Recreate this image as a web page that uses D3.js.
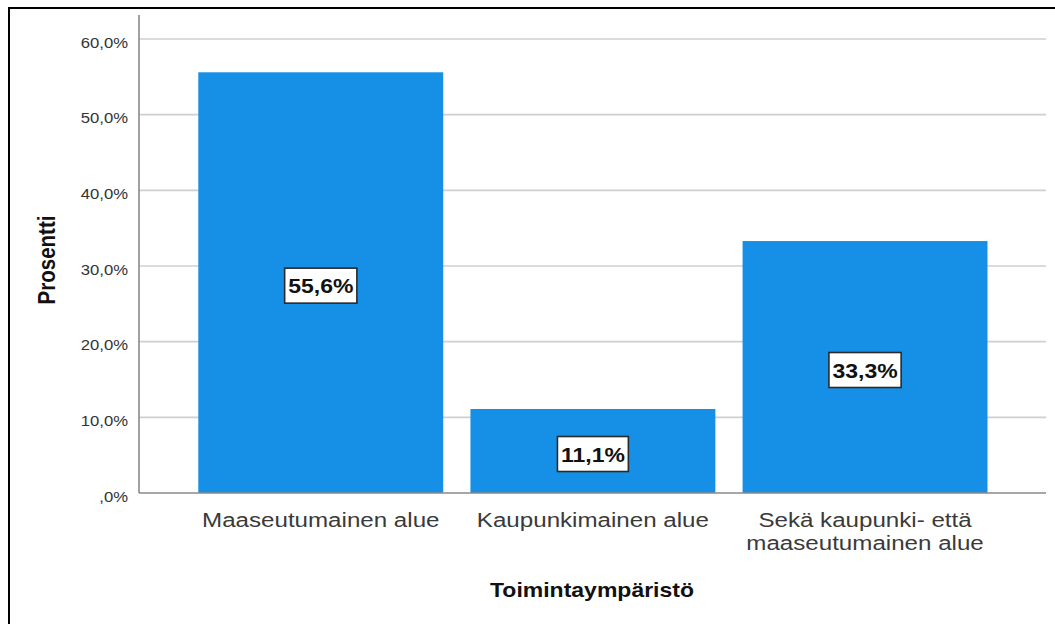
<!DOCTYPE html>
<html>
<head>
<meta charset="utf-8">
<script src="https://cdn.jsdelivr.net/npm/d3@7"></script>
<style>
  html, body { margin: 0; padding: 0; background: #fff; }
  svg { display: block; }
  text { font-family: "Liberation Sans", Arial, sans-serif; }
</style>
</head>
<body>
<svg id="chart" width="1055" height="624"></svg>
<script>
// ---- data ----
const categories = [
  ["Maaseutumainen alue"],
  ["Kaupunkimainen alue"],
  ["Sekä kaupunki- että", "maaseutumainen alue"]
];
const values = [55.6, 11.1, 33.3];
const valueLabels = ["55,6%", "11,1%", "33,3%"];
const yTicks = [0, 10, 20, 30, 40, 50, 60];
const yTickLabels = [",0%", "10,0%", "20,0%", "30,0%", "40,0%", "50,0%", "60,0%"];
const xTitle = "Toimintaympäristö";
const yTitle = "Prosentti";

// ---- layout ----
const SX = 1.15; // horizontal text stretch in reference
const svg = d3.select("#chart");

// outer frame (left + top visible)
svg.append("rect")
  .attr("x", 9).attr("y", 8).attr("width", 1200).attr("height", 800)
  .attr("fill", "none").attr("stroke", "#000").attr("stroke-width", 2);

const plotLeft = 139, plotRight = 1046, plotBottom = 493, plotTop = 15;

const y = d3.scaleLinear().domain([0, 60]).range([plotBottom, 39]);
const x = d3.scaleBand()
  .domain(d3.range(categories.length))
  .range([184.7, 1001.1])
  .paddingInner(0.1)
  .paddingOuter(0.05);

// gridlines
svg.append("g")
  .selectAll("line")
  .data(yTicks.filter(d => d > 0))
  .join("line")
  .attr("x1", plotLeft).attr("x2", plotRight)
  .attr("y1", d => y(d)).attr("y2", d => y(d))
  .attr("stroke", "#cfcfcf").attr("stroke-width", 1.6);

// bars
svg.append("g")
  .selectAll("rect")
  .data(values)
  .join("rect")
  .attr("x", (d, i) => x(i))
  .attr("width", x.bandwidth())
  .attr("y", d => y(d))
  .attr("height", d => y(0) - y(d))
  .attr("fill", "#1590e6");

// axes lines
svg.append("line")
  .attr("x1", plotLeft).attr("x2", plotLeft)
  .attr("y1", plotTop).attr("y2", plotBottom)
  .attr("stroke", "#8a8a8a").attr("stroke-width", 1.6);
svg.append("line")
  .attr("x1", plotLeft).attr("x2", plotRight)
  .attr("y1", plotBottom).attr("y2", plotBottom)
  .attr("stroke", "#8a8a8a").attr("stroke-width", 1.6);

// y tick labels
svg.append("g")
  .selectAll("g")
  .data(yTicks)
  .join("g")
  .attr("transform", d => `translate(128,${y(d) + 8.5}) scale(${SX},1)`)
  .append("text")
  .attr("text-anchor", "end")
  .attr("font-size", 14.5)
  .attr("fill", "#333")
  .text((d, i) => yTickLabels[i]);

// x tick labels
const xl = svg.append("g")
  .selectAll("g")
  .data(categories)
  .join("g")
  .attr("transform", (d, i) => `translate(${x(i) + x.bandwidth() / 2},527) scale(${SX},1)`);
xl.each(function(lines) {
  d3.select(this).selectAll("text")
    .data(lines)
    .join("text")
    .attr("text-anchor", "middle")
    .attr("y", (d, j) => j * 23)
    .attr("font-size", 21)
    .attr("fill", "#3a3a3a")
    .text(d => d);
});

// value label boxes
const lbl = svg.append("g")
  .selectAll("g")
  .data(values)
  .join("g")
  .attr("transform", (d, i) => `translate(${x(i) + x.bandwidth() / 2},${y(d / 2) + 3})`);
lbl.each(function(d, i) {
  const g = d3.select(this);
  const rect = g.append("rect");
  const tg = g.append("g").attr("transform", `scale(${SX},1)`);
  const t = tg.append("text")
    .attr("text-anchor", "middle")
    .attr("y", 7.5)
    .attr("font-size", 20)
    .attr("font-weight", "bold")
    .attr("fill", "#111")
    .text(valueLabels[i]);
  const w = t.node().getComputedTextLength() * SX + 7;
  const h = 35;
  rect.attr("x", -w / 2).attr("y", -h / 2).attr("width", w).attr("height", h)
    .attr("fill", "#fff").attr("stroke", "#2a2a2a").attr("stroke-width", 1.6);
});

// axis titles
svg.append("g")
  .attr("transform", `translate(592,597) scale(${SX},1)`)
  .append("text")
  .attr("text-anchor", "middle")
  .attr("font-size", 20)
  .attr("font-weight", "bold")
  .attr("fill", "#111")
  .text(xTitle);

svg.append("g")
  .attr("transform", `translate(55,260) scale(${SX},1) rotate(-90)`)
  .append("text")
  .attr("text-anchor", "middle")
  .attr("font-size", 20.5)
  .attr("font-weight", "bold")
  .attr("fill", "#111")
  .text(yTitle);
</script>
</body>
</html>
